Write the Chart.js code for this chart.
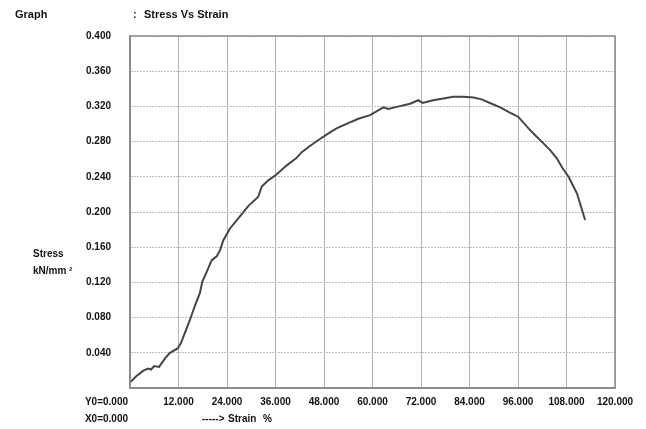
<!DOCTYPE html>
<html>
<head>
<meta charset="utf-8">
<script src="https://cdn.jsdelivr.net/npm/chart.js@4/dist/chart.umd.min.js"></script>
<style>
html,body{margin:0;padding:0;background:#fff;}
canvas{display:block;}
</style>
</head>
<body>
<canvas id="c" width="646" height="429"></canvas>
<script>
const strain = [0.2, 1.6, 3.3, 4.5, 5.2, 6.0, 7.2, 8.7, 9.9, 11.8, 12.6, 13.6, 14.8, 16.1, 17.3, 17.9, 18.6, 20.2, 21.5, 22.3, 23.1, 24.7, 27.2, 29.3, 31.7, 32.6, 34.2, 36.1, 38.8, 41.1, 42.5, 44.5, 47.0, 49.0, 51.1, 54.0, 56.5, 59.4, 62.7, 63.9, 66.5, 69.3, 71.3, 72.4, 75.0, 77.5, 80.0, 82.5, 85.0, 87.0, 89.5, 91.6, 94.0, 96.1, 98.6, 100.5, 102.3, 104.0, 105.6, 107.0, 108.5, 109.5, 110.6, 111.6, 112.6];
const stress = [0.007, 0.0136, 0.0197, 0.022, 0.021, 0.025, 0.024, 0.034, 0.040, 0.045, 0.051, 0.063, 0.077, 0.094, 0.108, 0.121, 0.128, 0.145, 0.150, 0.157, 0.168, 0.181, 0.195, 0.207, 0.217, 0.229, 0.236, 0.242, 0.253, 0.261, 0.268, 0.275, 0.283, 0.289, 0.295, 0.301, 0.306, 0.310, 0.319, 0.317, 0.320, 0.323, 0.327, 0.324, 0.327, 0.329, 0.331, 0.331, 0.330, 0.328, 0.323, 0.319, 0.313, 0.308, 0.295, 0.286, 0.278, 0.270, 0.261, 0.250, 0.240, 0.231, 0.221, 0.206, 0.191];
const xTickLabels = ['', '12.000', '24.000', '36.000', '48.000', '60.000', '72.000', '84.000', '96.000', '108.000', '120.000'];
const yTickLabels = ['', '0.040', '0.080', '0.120', '0.160', '0.200', '0.240', '0.280', '0.320', '0.360', '0.400'];

const FONT = "'Liberation Sans', Arial, sans-serif";

const textPlugin = {
  id: 'texts',
  afterDraw(chart) {
    const ctx = chart.ctx;
    const a = chart.chartArea;
    ctx.save();
    // frame
    ctx.strokeStyle = '#8c8c8c';
    ctx.lineWidth = 1.5;
    ctx.strokeRect(a.left, a.top, a.right - a.left, a.bottom - a.top);
    ctx.fillStyle = '#111';
    ctx.textBaseline = 'middle';
    ctx.textAlign = 'left';
    ctx.font = 'bold 11px ' + FONT;
    ctx.fillText('Graph', 15, 15);
    ctx.fillText(':', 133, 15);
    ctx.fillText('Stress Vs Strain', 144, 15);
    ctx.font = 'bold 10px ' + FONT;
    ctx.fillText('Stress', 33, 254);
    ctx.fillText('kN/mm \u00B2', 33, 271);
    ctx.fillText('----->', 202, 419);
    ctx.fillText('Strain', 228, 419);
    ctx.fillText('%', 263, 419);
    ctx.textAlign = 'right';
    ctx.fillText('Y0=0.000', 128, 402);
    ctx.fillText('X0=0.000', 128, 419);
    ctx.restore();
  }
};

new Chart(document.getElementById('c'), {
  type: 'scatter',
  data: {
    datasets: [{
      data: strain.map((x, i) => ({ x: x, y: stress[i] })),
      showLine: true,
      borderColor: '#454545',
      borderWidth: 2,
      pointRadius: 0,
      tension: 0
    }]
  },
  options: {
    responsive: false,
    devicePixelRatio: 1,
    animation: false,
    layout: { padding: { top: 36, right: 31, left: 0, bottom: 0 } },
    plugins: { legend: { display: false }, tooltip: { enabled: false } },
    scales: {
      x: {
        type: 'linear',
        min: 0, max: 120,
        afterFit(s) { s.height = 41; },
        afterBuildTicks(s) { s.ticks = xTickLabels.map((_, i) => ({ value: i * 12 })); },
        ticks: {
          autoSkip: false,
          maxRotation: 0,
          padding: 8,
          color: '#111',
          font: { family: FONT, size: 10, weight: 'bold' },
          callback: (v, i) => xTickLabels[i]
        },
        grid: { color: '#b5b5b5', lineWidth: 1, drawTicks: false },
        border: { color: '#8c8c8c', width: 2 }
      },
      y: {
        type: 'linear',
        min: 0, max: 0.4,
        afterFit(s) { s.width = 130; },
        afterBuildTicks(s) { s.ticks = yTickLabels.map((_, i) => ({ value: i * 0.04 })); },
        ticks: {
          autoSkip: false,
          padding: 19,
          color: '#111',
          font: { family: FONT, size: 10, weight: 'bold' },
          callback: (v, i) => yTickLabels[i]
        },
        grid: { color: '#bdbdbd', lineWidth: 1, drawTicks: false },
        border: { color: '#8c8c8c', width: 2, dash: [2, 1] }
      }
    }
  },
  plugins: [textPlugin]
});
</script>
</body>
</html>
